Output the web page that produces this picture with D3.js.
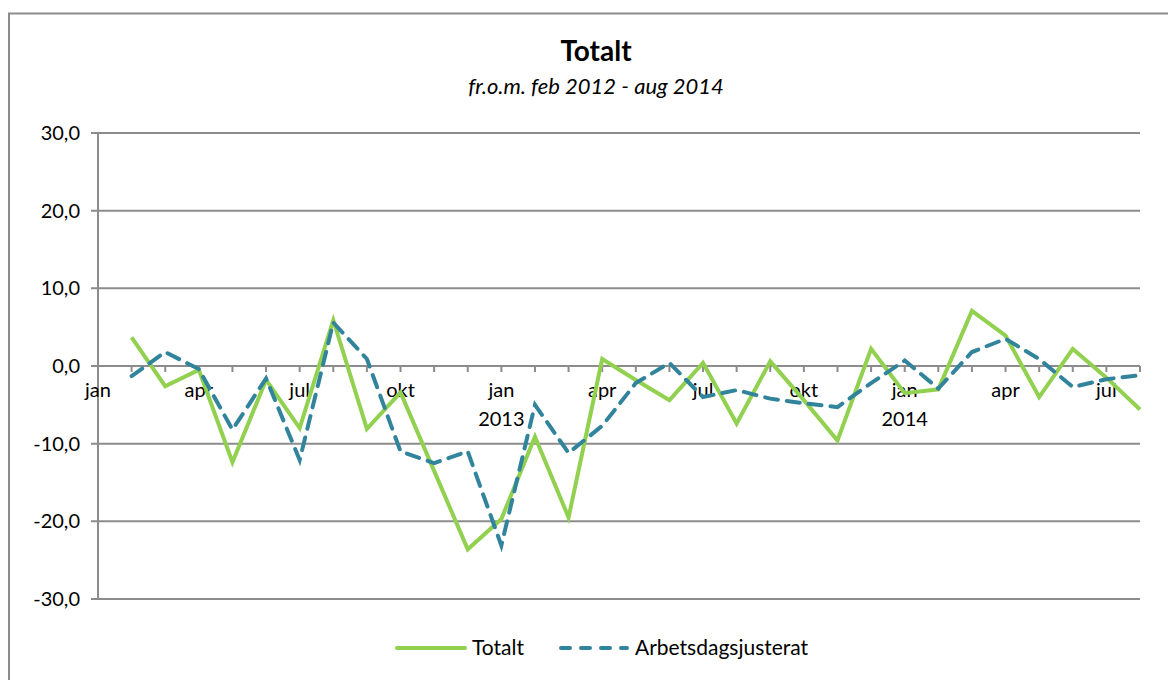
<!DOCTYPE html>
<html>
<head>
<meta charset="utf-8">
<script src="https://cdn.jsdelivr.net/npm/d3@7"></script>
<style>
  body { margin: 0; background: #fff; }
  text { font-family: Lato, "Open Sans", sans-serif; fill: #000; }
</style>
</head>
<body>
<svg id="chart" width="1168" height="680"></svg>
<script>
// months jan 2012 .. aug 2014 (first month has no value)
const months = ["jan","feb","mar","apr","maj","jun","jul","aug","sep","okt","nov","dec",
  "jan","feb","mar","apr","maj","jun","jul","aug","sep","okt","nov","dec",
  "jan","feb","mar","apr","maj","jun","jul","aug"];
const years = {12: "2013", 24: "2014"};
const shownLabels = ["jan", "apr", "jul", "okt"];

const totalt = [null, 3.7, -2.6, -0.5, -12.4, -1.8, -8.0, 5.9, -8.1, -3.4, -13.5, -23.6,
  -19.7, -9.1, -19.5, 0.9, -1.8, -4.4, 0.4, -7.4, 0.6, -4.4, -9.6, 2.2,
  -3.5, -3.0, 7.1, 3.9, -4.0, 2.2, -1.5, -5.6];
const justerat = [null, -1.3, 1.8, -0.4, -8.2, -1.6, -12.1, 5.6, 0.9, -11.0, -12.5, -11.0,
  -23.1, -5.0, -11.2, -7.7, -2.2, 0.4, -4.0, -3.1, -4.2, -4.8, -5.3, -2.2,
  0.7, -2.9, 1.8, 3.5, 0.9, -2.7, -1.7, -1.2];
const yTicks = [-30, -20, -10, 0, 10, 20, 30];

const svg = d3.select("#chart");
const plotLeft = 98, plotRight = 1140, plotTop = 133, plotBottom = 599;

// outer frame
svg.append("rect")
  .attr("x", 9).attr("y", 13.5).attr("width", 1200).attr("height", 700)
  .attr("fill", "none").attr("stroke", "#8c8c8c").attr("stroke-width", 2);

const x = d3.scalePoint().domain(d3.range(months.length)).range([plotLeft, plotRight]);
const y = d3.scaleLinear().domain([-30, 30]).range([plotBottom, plotTop]);

// gridlines
svg.append("g").selectAll("line").data(yTicks).join("line")
  .attr("x1", plotLeft - 7).attr("x2", plotRight)
  .attr("y1", d => y(d)).attr("y2", d => y(d))
  .attr("stroke", "#8c8c8c").attr("stroke-width", 2);

// y axis
svg.append("line").attr("x1", plotLeft).attr("x2", plotLeft).attr("y1", plotTop).attr("y2", plotBottom)
  .attr("stroke", "#8c8c8c").attr("stroke-width", 2);
svg.append("g").selectAll("text").data(yTicks).join("text")
  .attr("x", 80).attr("y", d => y(d)).attr("dy", "0.35em")
  .attr("text-anchor", "end").attr("font-size", 20)
  .text(d => d.toFixed(1).replace(".", ","));

// x axis ticks on zero line
const y0 = y(0);
svg.append("g").selectAll("line").data(d3.range(1, months.length)).join("line")
  .attr("x1", d => x(d)).attr("x2", d => x(d))
  .attr("y1", y0).attr("y2", y0 + 6)
  .attr("stroke", "#8c8c8c").attr("stroke-width", 2);

const lbl = d3.range(months.length).filter(i => shownLabels.includes(months[i]));
svg.append("g").selectAll("text").data(lbl).join("text")
  .attr("x", d => x(d)).attr("y", y0 + 31)
  .attr("text-anchor", "middle").attr("font-size", 20)
  .text(d => months[d]);
svg.append("g").selectAll("text").data(Object.keys(years)).join("text")
  .attr("x", d => x(+d)).attr("y", y0 + 60)
  .attr("text-anchor", "middle").attr("font-size", 20)
  .text(d => years[d]);

// lines
const line = d3.line().defined(d => d != null).x((d, i) => x(i)).y(d => y(d));
svg.append("path").datum(totalt).attr("d", line)
  .attr("fill", "none").attr("stroke", "#92D050").attr("stroke-width", 4)
  .attr("stroke-linejoin", "miter");
svg.append("path").datum(justerat).attr("d", line)
  .attr("fill", "none").attr("stroke", "#31849B").attr("stroke-width", 4)
  .attr("stroke-dasharray", "13 9").attr("stroke-linecap", "round");

// titles
svg.append("text").attr("x", 596).attr("y", 61).attr("text-anchor", "middle")
  .attr("font-size", 28).attr("font-weight", "bold").text("Totalt");
svg.append("text").attr("x", 596).attr("y", 94).attr("text-anchor", "middle")
  .attr("font-size", 22).attr("font-style", "italic").text("fr.o.m. feb 2012 - aug 2014");

// legend
const leg = svg.append("g");
leg.append("line").attr("x1", 397).attr("x2", 465).attr("y1", 648).attr("y2", 648)
  .attr("stroke", "#92D050").attr("stroke-width", 4).attr("stroke-linecap", "round");
leg.append("text").attr("x", 472).attr("y", 648).attr("dy", "0.35em")
  .attr("font-size", 21).text("Totalt");
leg.append("line").attr("x1", 561).attr("x2", 627).attr("y1", 648).attr("y2", 648)
  .attr("stroke", "#31849B").attr("stroke-width", 4)
  .attr("stroke-dasharray", "9 11").attr("stroke-linecap", "round");
leg.append("text").attr("x", 635).attr("y", 648).attr("dy", "0.35em")
  .attr("font-size", 21).text("Arbetsdagsjusterat");
</script>
</body>
</html>
